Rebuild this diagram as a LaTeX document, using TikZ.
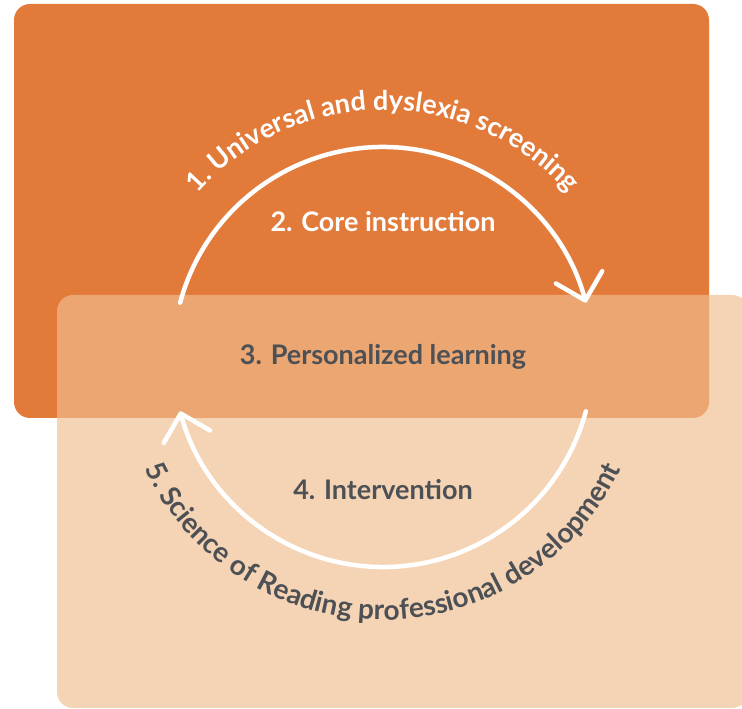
\documentclass[tikz,border=0pt]{standalone}
\usepackage{fontspec}
\setmainfont{Lato}
\usepackage{xcolor}
\usetikzlibrary{
  positioning,
  arrows.meta,
  decorations.text
}

\definecolor{panelorange}{RGB}{226,122,58}
\definecolor{panelpeach}{RGB}{240,190,143}
\definecolor{labelgray}{RGB}{77,80,84}

\begin{document}
\begin{tikzpicture}[
  x=1pt, y=1pt,
  panel/.style={rounded corners=16pt},
  label/.style={font=\fontsize{27}{30}\selectfont\bfseries, inner sep=0pt},
  cycle/.style={draw=white, line width=4.5pt, line cap=round,
    -{Straight Barb[length=24pt, width=48pt, round]}},
  curved/.style={decorate, decoration={text along path, text align=center}}
]

\useasboundingbox (0,0) rectangle (742,709);
\clip (0,0) rectangle (742,709);

% Panels
\fill[panel, panelorange] (14,291) rectangle (709,705);
\fill[panel, panelpeach, fill opacity=0.66] (57,1) rectangle (748,414);

% Cycle arrows
\coordinate (ctr) at (383,352);
\coordinate (topstart) at ([shift={(165:210)}]ctr);
\coordinate (botstart) at ([shift={(-15:210)}]ctr);
\draw[cycle] (topstart) arc[start angle=165, end angle=15, radius=210];
\draw[cycle] (botstart) arc[start angle=-15, end angle=-165, radius=210];

% Labels
\node[label, white] (core) at (383,487) {2. Core instruction};
\node[label, labelgray] (personal) at (ctr) {3. Personalized learning};
\node[label, labelgray] (interv) at (383,219) {4. Intervention};

% Curved labels
\path[curved, decoration={text color=white,
  text={|\fontsize{27}{30}\selectfont\bfseries|1. Universal and dyslexia screening}}]
  ([shift={(150:247)}]ctr) arc[start angle=150, end angle=30, radius=247];
\path[curved, decoration={text color=labelgray,
  text={|\fontsize{28}{30}\selectfont\bfseries|5. Science of Reading professional development}}]
  ([shift={(195:263)}]ctr) arc[start angle=195, end angle=345, radius=263];

\end{tikzpicture}
\end{document}
